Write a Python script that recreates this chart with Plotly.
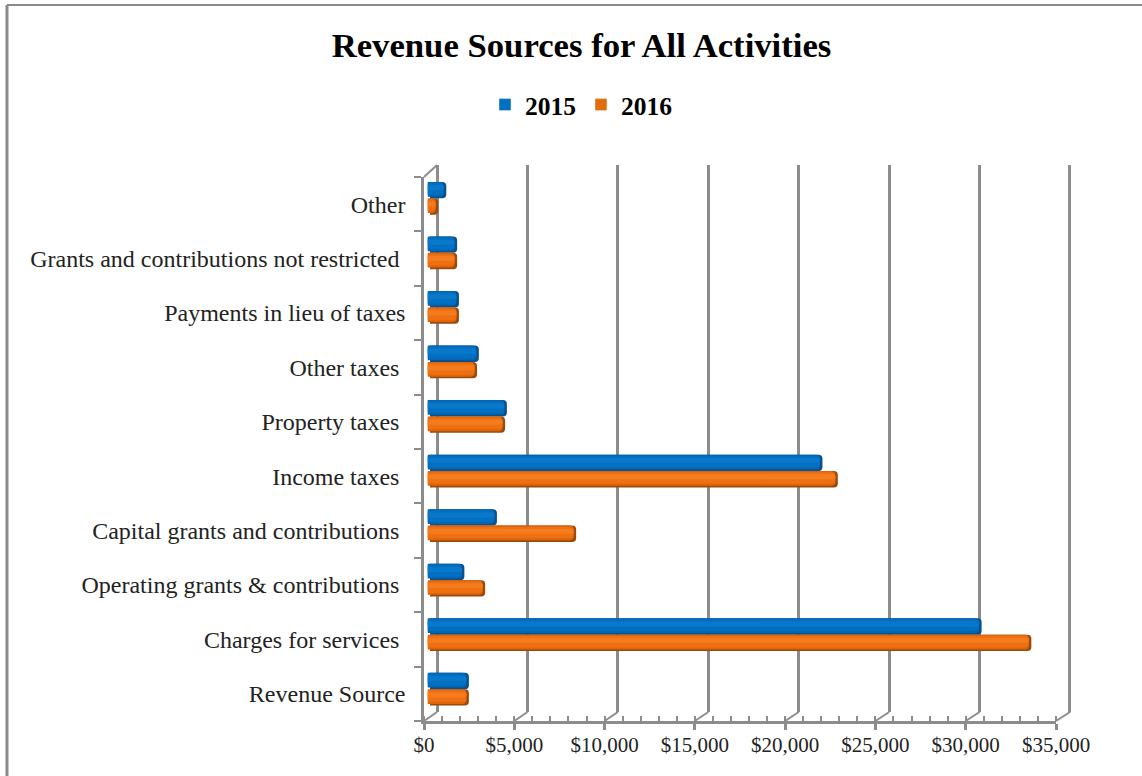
import plotly.graph_objects as go

# Values, bottom category first
categories = ['Revenue Source', 'Charges for services', 'Operating grants & contributions',
              'Capital grants and contributions', 'Income taxes', 'Property taxes',
              'Other taxes', 'Payments in lieu of taxes', 'Grants and contributions not restricted', 'Other']
# some source labels carry a trailing blank, which shifts them left of the others
tick_labels = ['Revenue Source', 'Charges for services\u00a0', 'Operating grants & contributions\u00a0',
               'Capital grants and contributions\u00a0', 'Income taxes\u00a0', 'Property taxes\u00a0',
               'Other taxes\u00a0', 'Payments in lieu of taxes', 'Grants and contributions not restricted\u00a0', 'Other']
values_2015 = [2150, 30500, 1900, 3700, 21700, 4250, 2700, 1600, 1500, 900]
values_2016 = [2150, 33250, 3050, 8080, 22550, 4150, 2600, 1600, 1500, 450]
x_ticks = [0, 5000, 10000, 15000, 20000, 25000, 30000, 35000]
x_tick_labels = ['$0', '$5,000', '$10,000', '$15,000', '$20,000', '$25,000', '$30,000', '$35,000']

W, H = 1142, 776
FONT = 'Liberation Serif'
GREY = '#8c8c8c'
X_RANGE = [0, 35000]
# a little wider so plotly keeps the gridlines at both ends of the back wall
BACK_RANGE = [-100, 35100]
Y_RANGE = [-0.5, 9.5]
BAR = 0.30


def dom_x(a, b):
    return [a / W, b / W]


def dom_y(top, bottom):
    return [1 - bottom / H, 1 - top / H]


fig = go.Figure()

# (offset within bar from its bottom, height, colours for 2015 and 2016); first one is the shell
bands = [
    (0.00, 1.00, '#0a4f8e', '#9c4a0a', 'x2', 'y2'),
    (0.10, 0.90, '#0566b0', '#dc640d', 'x3', 'y3'),
    (0.22, 0.70, '#0070c4', '#ee7010', 'x3', 'y3'),
    (0.50, 0.30, '#0a78c8', '#f47c1e', 'x3', 'y3'),
]

for off, height, col15, col16, xa, ya in bands:
    fig.add_bar(x=values_2015, y=categories, orientation='h', name='2015', legendgroup='2015',
                showlegend=False, marker=dict(color=col15, line_width=0), width=BAR * height,
                offset=BAR * off, xaxis=xa, yaxis=ya, hoverinfo='skip')
    fig.add_bar(x=values_2016, y=categories, orientation='h', name='2016', legendgroup='2016',
                showlegend=False, marker=dict(color=col16, line_width=0), width=BAR * height,
                offset=-BAR + BAR * off, xaxis=xa, yaxis=ya, hoverinfo='skip')

# legend swatches, flat colours
fig.add_bar(x=[None], y=[categories[0]], orientation='h', name='2015', marker=dict(color='#0070c0', cornerradius=0), xaxis='x3', yaxis='y3')
fig.add_bar(x=[None], y=[categories[0]], orientation='h', name='2016', marker=dict(color='#e36c0a', cornerradius=0), xaxis='x3', yaxis='y3')

# empty traces so the back wall and the front axes get drawn
fig.add_scatter(x=X_RANGE, y=[categories[0], categories[-1]], mode='none', showlegend=False, xaxis='x', yaxis='y')
fig.add_scatter(x=X_RANGE, y=[categories[0], categories[-1]], mode='none', showlegend=False, xaxis='x4', yaxis='y4')

plain = dict(range=X_RANGE, showgrid=False, showticklabels=False, ticks='', showline=False, zeroline=False)
plain_y = dict(type='category', categoryorder='array', categoryarray=categories, range=Y_RANGE,
               showgrid=False, showticklabels=False, ticks='', showline=False, zeroline=False)

fig.update_layout(
    width=W, height=H, margin=dict(l=0, r=0, t=0, b=0, autoexpand=False),
    paper_bgcolor='white', plot_bgcolor='rgba(0,0,0,0)',
    barmode='overlay', barcornerradius=4,
    font=dict(family=FONT, color='#1a1a1a'),
    title=dict(text='<b>Revenue Sources for All Activities</b>', x=581.5 / W, y=1 - 45 / H,
               xanchor='center', yanchor='middle', font=dict(size=34.7, color='black', family=FONT)),
    legend=dict(orientation='h', x=581 / W, y=1 - 105 / H, xanchor='center', yanchor='middle',
                font=dict(size=25.5, color='black', family=FONT, weight='bold'),
                traceorder='normal', itemwidth=30, bgcolor='rgba(0,0,0,0)'),
    # back wall gridlines
    xaxis=dict(plain, range=BACK_RANGE, domain=dom_x(435.2, 1071.8), tickvals=x_ticks, showgrid=True, gridcolor=GREY, gridwidth=2.5),
    yaxis=dict(plain_y, domain=dom_y(165, 712)),
    # bars sit halfway through the depth of the chart
    xaxis2=dict(plain, domain=dom_x(430, 1063), anchor='y2'),
    yaxis2=dict(plain_y, domain=dom_y(171, 716.5), anchor='x2'),
    xaxis3=dict(plain, domain=dom_x(427.5, 1060.5), anchor='y3'),
    yaxis3=dict(plain_y, domain=dom_y(171, 716.5), anchor='x3'),
    # front axes with ticks and labels
    xaxis4=dict(range=X_RANGE, domain=dom_x(424, 1056), anchor='y4', tickvals=x_ticks, ticktext=x_tick_labels,
                showgrid=False, zeroline=False, showline=True, linecolor=GREY, linewidth=2.5,
                ticks='outside', ticklen=6, tickwidth=2.5, tickcolor=GREY, ticklabelstandoff=-3,
                tickfont=dict(size=21, family=FONT, color='#222222'),
                minor=dict(dtick=1000, ticks='inside', ticklen=5, tickwidth=1.5, tickcolor=GREY)),
    yaxis4=dict(type='category', categoryorder='array', categoryarray=categories, range=Y_RANGE,
                domain=dom_y(177, 721), anchor='x4', tickvals=categories, ticktext=tick_labels,
                showgrid=False, zeroline=False, showline=True, linecolor=GREY, linewidth=2.5,
                ticks='outside', ticklen=7, tickwidth=1.5, tickcolor=GREY, ticklabelstandoff=11,
                tickson='boundaries', tickfont=dict(size=24, family=FONT, color='#222222')),
)

# depth lines on the floor and the left wall, tick to tick between front and back axis
for t in x_ticks:
    frac = t / X_RANGE[1]
    fig.add_shape(type='line', xref='paper', yref='paper',
                  x0=(424 + frac * 632) / W, y0=1 - 721 / H, x1=(437 + frac * 633) / W, y1=1 - 712 / H,
                  line=dict(color=GREY, width=2))
fig.add_shape(type='line', xref='paper', yref='paper', x0=424 / W, y0=1 - 177 / H, x1=437 / W, y1=1 - 165 / H,
              line=dict(color=GREY, width=2))

# picture frame, only top and left show in the crop
fig.add_shape(type='line', xref='paper', yref='paper', x0=7 / W, y0=1 - 5 / H, x1=1, y1=1 - 5 / H, line=dict(color='#8a8a8a', width=2))
fig.add_shape(type='line', xref='paper', yref='paper', x0=7 / W, y0=0, x1=7 / W, y1=1 - 5 / H, line=dict(color='#8a8a8a', width=3))

fig.write_html("out.html", config=dict(displayModeBar=False), post_script="document.body.style.margin='0';")
